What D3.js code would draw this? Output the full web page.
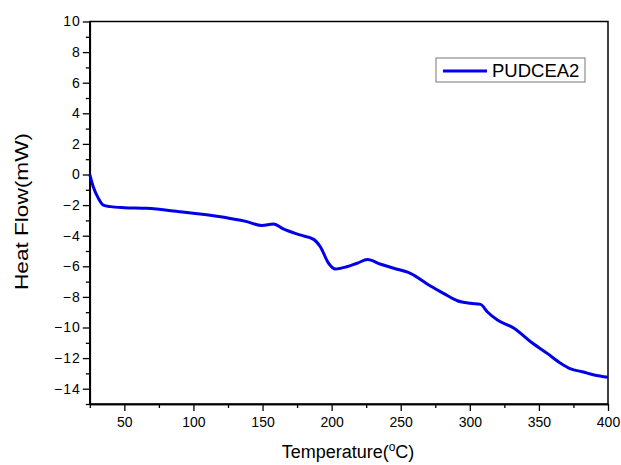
<!DOCTYPE html>
<html>
<head>
<meta charset="utf-8">
<script src="https://cdn.jsdelivr.net/npm/d3@7"></script>
<style>
  body { margin: 0; background: #fff; }
  text { font-family: Arial, "Liberation Sans", sans-serif; fill: #000; }
</style>
</head>
<body>
<script>
// temperature (°C) and heat flow (mW)
var temps = [25, 27.5, 31.2, 34.8, 40, 50, 66, 90, 114.5, 138.7, 149.5, 158, 165, 177, 187, 191.8, 197.8, 202.7, 211, 218.4, 226, 235, 245, 257, 271.5, 281, 291, 300.5, 307.8, 312.6, 320, 332, 344, 356, 365.7, 373, 381.4, 390, 400];
var heatFlow = [0, -0.8, -1.56, -2.0, -2.1, -2.17, -2.21, -2.43, -2.69, -3.08, -3.34, -3.24, -3.56, -3.95, -4.24, -4.72, -5.8, -6.18, -6.03, -5.8, -5.56, -5.85, -6.13, -6.46, -7.29, -7.77, -8.25, -8.42, -8.49, -8.97, -9.51, -10.05, -10.93, -11.69, -12.34, -12.71, -12.89, -13.1, -13.25];
var xTicks = [50, 100, 150, 200, 250, 300, 350, 400];
var yTicks = [-14, -12, -10, -8, -6, -4, -2, 0, 2, 4, 6, 8, 10];
var seriesName = "PUDCEA2";

window.onload = () => {
  var W = 621, H = 465;
  var margin = { top: 21.5, right: 13, bottom: 61, left: 89.8 },
    width = W - margin.left - margin.right,
    height = H - margin.top - margin.bottom;

  var x = d3.scaleLinear().domain([25, 400]).range([0, width]);
  var y = d3.scaleLinear().domain([-15, 10]).range([height, 0]);

  var svg = d3.select("body").append("svg")
    .attr("width", W).attr("height", H)
    .append("g")
    .attr("transform", "translate(" + margin.left + "," + margin.top + ")");

  // frame
  svg.append("rect")
    .attr("width", width).attr("height", height)
    .attr("fill", "none").attr("stroke", "#000").attr("stroke-width", 1.5);

  // minor ticks
  var xMinor = d3.range(25, 401, 25).filter(v => xTicks.indexOf(v) < 0);
  var yMinor = d3.range(-15, 10, 2);

  svg.append("g")
    .attr("transform", "translate(0," + height + ")")
    .call(d3.axisBottom(x).tickValues(xTicks).tickSize(7).tickPadding(6).tickSizeOuter(0));
  svg.append("g")
    .attr("transform", "translate(0," + height + ")")
    .call(d3.axisBottom(x).tickValues(xMinor).tickSize(4).tickFormat("").tickSizeOuter(0));

  var yAxis = svg.append("g")
    .call(d3.axisLeft(y).tickValues(yTicks).tickSize(7).tickPadding(2).tickSizeOuter(0));
  svg.append("g")
    .call(d3.axisLeft(y).tickValues(yMinor).tickSize(4).tickFormat("").tickSizeOuter(0));

  svg.selectAll(".domain").attr("stroke-width", 1.5);
  svg.selectAll(".tick line").attr("stroke-width", 1.3);
  svg.selectAll(".tick text").style("font-size", "14px")
    .style("font-family", "Arial, 'Liberation Sans', sans-serif");
  yAxis.selectAll(".tick text").style("letter-spacing", "1px");

  // curve
  var line = d3.line()
    .x((d, i) => x(temps[i]))
    .y(d => y(d))
    .curve(d3.curveMonotoneX);

  svg.append("path")
    .datum(heatFlow)
    .attr("fill", "none")
    .attr("stroke", "#0000e6")
    .attr("stroke-width", 3)
    .attr("stroke-linejoin", "round")
    .attr("d", line);

  // axis titles
  var xt = svg.append("text")
    .attr("x", 348 - margin.left)
    .attr("y", 458 - margin.top)
    .attr("text-anchor", "middle")
    .style("font-size", "18px")
    .text("Temperature(");
  xt.append("tspan").attr("dy", -7).style("font-size", "12px").text("o");
  xt.append("tspan").attr("dy", 7).text("C)");

  svg.append("text")
    .attr("transform", "translate(" + (28 - margin.left) + "," + (211.5 - margin.top) + ") rotate(-90)")
    .attr("text-anchor", "middle")
    .attr("textLength", 157)
    .attr("lengthAdjust", "spacingAndGlyphs")
    .style("font-size", "18px")
    .text("Heat Flow(mW)");

  // legend
  var lg = svg.append("g").attr("transform", "translate(" + (436 - margin.left) + "," + (58 - margin.top) + ")");
  lg.append("rect").attr("width", 149).attr("height", 24)
    .attr("fill", "#fff").attr("stroke", "#777").attr("stroke-width", 1);
  lg.append("line").attr("x1", 7).attr("x2", 51).attr("y1", 13).attr("y2", 13)
    .attr("stroke", "#0000e6").attr("stroke-width", 3);
  lg.append("text").attr("x", 56).attr("y", 19).style("font-size", "18.5px").text(seriesName);
};
</script>
</body>
</html>
